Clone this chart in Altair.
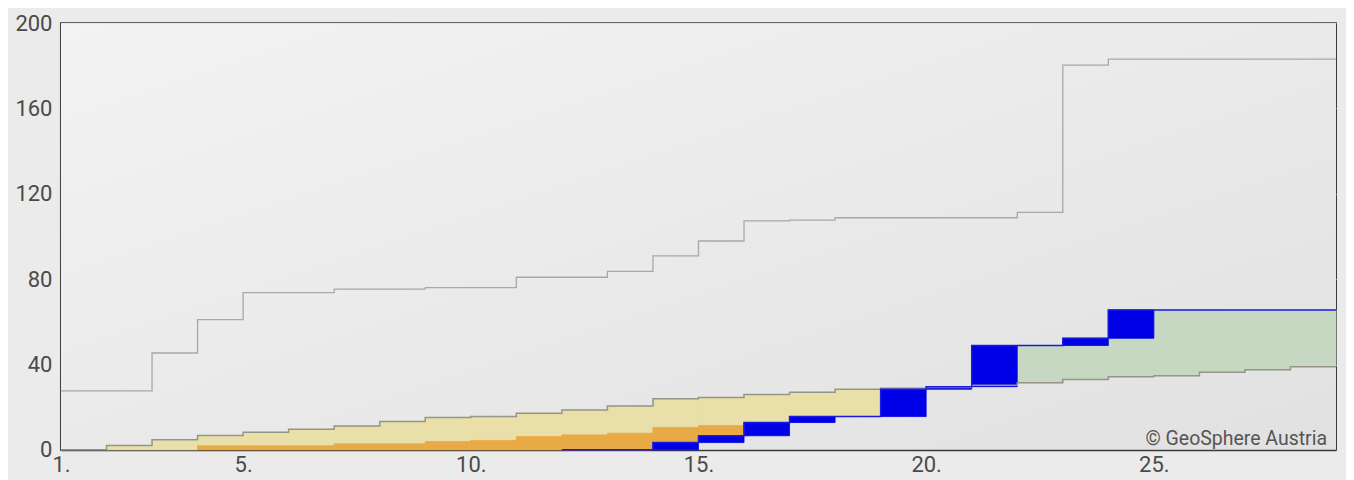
import altair as alt
import pandas as pd
import numpy as np

# ---- data (cumulative precipitation, mm) ----
days = list(range(1, 29))
max_cum = [27.6, 27.6, 45.4, 61.0, 73.7, 73.7, 75.3, 75.3, 76.0, 76.0,
           80.9, 80.9, 83.7, 90.9, 97.9, 107.3, 107.7, 108.8, 108.8, 108.8,
           108.8, 111.3, 180.3, 183.1, 183.1, 183.1, 183.1, 183.1]
mean_cum = [0.0, 2.0, 4.7, 6.7, 8.3, 9.7, 11.2, 13.3, 15.2, 15.6,
            17.2, 18.7, 20.6, 23.9, 24.5, 25.9, 27.0, 28.4, 28.9, 29.2,
            30.3, 31.4, 33.0, 34.3, 34.7, 36.4, 37.5, 39.0]
low_cum = [0.0, 0.0, 0.0, 1.9, 1.9, 1.9, 2.8, 2.8, 3.9, 4.4,
           6.2, 7.0, 7.8, 10.5, 11.4]
cur_days = list(range(12, 29))
cur_cum = [0.0, 0.0, 3.4, 6.6, 12.8, 15.6, 15.6, 28.4, 29.6, 48.9,
           48.9, 52.3, 65.6, 65.6, 65.6, 65.6, 65.6]
x_ticks = [1, 5, 10, 15, 20, 25]
y_ticks = [0, 40, 80, 120, 160, 200]
credit = "© GeoSphere Austria"

# ---- build tables ----
df = pd.DataFrame({"day": days, "max": max_cum, "mean": mean_cum})
df["day2"] = df["day"] + 1
df["low"] = pd.Series(low_cum + [np.nan] * (len(days) - len(low_cum)))
cur = pd.Series(np.nan, index=df.index)
for d, v in zip(cur_days, cur_cum):
    cur[d - 1] = v
df["cur"] = cur
df["cur_end"] = df["cur"].fillna(0)
df["cur_start"] = df["cur_end"].shift(1).fillna(0)

yel = df.copy()
yel["lo"] = np.maximum(yel["cur_end"], yel["low"].fillna(0))
yel["hi"] = yel["mean"]
yel = yel[yel["hi"] > yel["lo"]]

ora = df.copy()
ora["lo"] = ora["cur_end"]
ora["hi"] = ora["low"]
ora = ora[ora["hi"] > ora["lo"]]

grn = df.copy()
grn["lo"] = grn["mean"]
grn["hi"] = grn["cur_end"]
grn = grn[grn["hi"] > grn["lo"]]

blu = df[df["cur"].notna()].copy()
blu["lo"] = blu["cur_start"]
blu["hi"] = blu["cur_end"]
blu = blu[blu["hi"] > blu["lo"]]

last = days[-1] + 1
line_max = pd.DataFrame({"day": days + [last], "v": max_cum + [max_cum[-1]]})
line_mean = pd.DataFrame({"day": days + [last], "v": mean_cum + [mean_cum[-1]]})
line_cur = pd.DataFrame({"day": cur_days + [last], "v": cur_cum + [cur_cum[-1]]})

W, H = 1276, 427
xs = alt.Scale(domain=[1, last], nice=False, zero=False)
ys = alt.Scale(domain=[0, 200], nice=False)

xaxis = alt.Axis(values=x_ticks, labelExpr="datum.value + '.'", title=None,
                 grid=True, ticks=False, labelFlush=False, labelPadding=5)
yaxis = alt.Axis(values=y_ticks, title=None, grid=True, ticks=False,
                 labelPadding=9, labelFlush=False)

bg = alt.Chart(pd.DataFrame({"a": [0]})).mark_rect(
    color={"gradient": "linear", "x1": 0, "y1": 0, "x2": 1, "y2": 1,
           "stops": [{"offset": 0, "color": "#f3f3f3"},
                     {"offset": 1, "color": "#e1e1e1"}]}
).encode(x=alt.value(0), x2=alt.value("width"), y=alt.value(0), y2=alt.value("height"))


def rects(data, color):
    return alt.Chart(data).mark_rect(color=color, stroke=color, strokeWidth=0.8).encode(
        x=alt.X("day:Q", scale=xs, axis=xaxis),
        x2="day2:Q",
        y=alt.Y("lo:Q", scale=ys, axis=yaxis),
        y2="hi:Q",
    )


def step(data, color, width):
    return alt.Chart(data).mark_line(color=color, strokeWidth=width,
                                     interpolate="step-after").encode(
        x=alt.X("day:Q", scale=xs, axis=xaxis),
        y=alt.Y("v:Q", scale=ys, axis=yaxis),
    )


text = alt.Chart(pd.DataFrame({"t": [credit]})).mark_text(
    align="right", baseline="alphabetic", fontSize=19.5, font="Roboto",
    color="#555555"
).encode(text="t:N", x=alt.value(W - 9), y=alt.value(H - 5))

chart = alt.layer(
    bg,
    rects(yel, "#e8dfa9"),
    rects(ora, "#e8aa45"),
    rects(grn, "#c6d8c2"),
    rects(blu, "#0000e6"),
    step(line_mean, "#959589", 1.5),
    step(line_max, "#a8a8a8", 1.3),
    step(line_cur, "#1a1ae0", 1.5),
    text,
).properties(
    width=W, height=H,
    autosize=alt.AutoSizeParams(type="none"),
    padding={"left": 53, "top": 15, "right": 10, "bottom": 30},
    background="#ebebeb",
).configure_view(
    stroke="#3a3a3a", strokeWidth=2
).configure_axis(
    labelFont="Roboto", labelFontSize=22, labelColor="#4a4a4a",
    gridColor="#d6d6d6", gridWidth=1,
    domainColor="#3a3a3a", domainWidth=2,
)

chart.save("out.html", embed_options={"renderer": "svg", "actions": False})
